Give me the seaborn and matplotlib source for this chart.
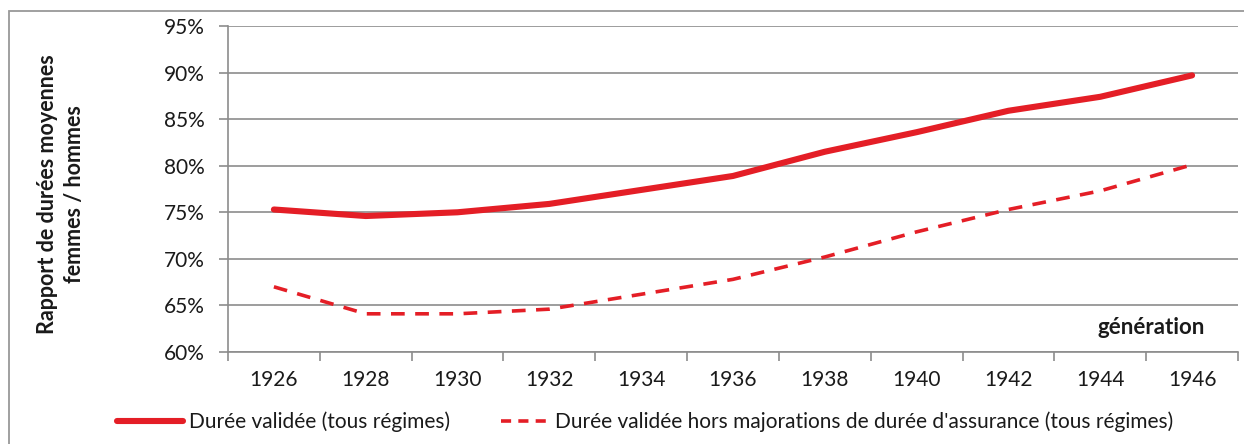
import seaborn as sns
import pandas as pd
import matplotlib.pyplot as plt
from matplotlib.lines import Line2D
from matplotlib.patches import Rectangle
from matplotlib.ticker import FuncFormatter, FixedLocator

# data
generations = ['1926', '1928', '1930', '1932', '1934', '1936', '1938', '1940', '1942', '1944', '1946']
duree_validee = [75.3, 74.6, 75.0, 75.9, 77.4, 78.9, 81.5, 83.6, 85.9, 87.4, 89.7]
duree_hors_maj = [67.0, 64.1, 64.1, 64.6, 66.2, 67.8, 70.2, 72.9, 75.3, 77.3, 80.1]
label_solid = 'Durée validée (tous régimes)'
label_dashed = "Durée validée hors majorations de durée d'assurance (tous régimes)"

sns.set_theme(style='white')
plt.rcParams['font.family'] = ['Lato', 'DejaVu Sans']

red = '#E41E26'
grey = '#8C8C8C'
txt = '#1a1a1a'

df = pd.DataFrame({'generation': generations,
                   'solid': duree_validee,
                   'dashed': duree_hors_maj})
df['pos'] = range(len(df))

fig = plt.figure(figsize=(12.44, 4.44), dpi=100)
ax = fig.add_axes([228 / 1244, 92 / 444, 1010 / 1244, 326 / 444])

sns.lineplot(data=df, x='pos', y='solid', ax=ax, color=red, lw=4.4,
             solid_capstyle='round', solid_joinstyle='round')
sns.lineplot(data=df, x='pos', y='dashed', ax=ax, color=red, lw=2.6)
ax.lines[-1].set_dashes([3.8, 2.9])

ax.set_xlim(-0.5, len(generations) - 0.5)
ax.set_ylim(60, 95)
ax.set_yticks(range(60, 96, 5))
ax.yaxis.set_major_formatter(FuncFormatter(lambda v, p: f'{v:.0f}%'))
ax.grid(axis='y', color=grey, lw=1.2)
ax.set_axisbelow(True)

ax.set_xticks(df['pos'])
ax.set_xticklabels(generations)
ax.xaxis.set_minor_locator(FixedLocator([i - 0.5 for i in range(len(generations) + 1)]))
ax.tick_params(axis='x', which='major', length=0, pad=13, labelsize=15, labelcolor=txt)
ax.tick_params(axis='x', which='minor', bottom=True, length=6.5, width=1.2, color=grey)
ax.tick_params(axis='y', left=True, length=6.5, width=1.2, color=grey, pad=10,
               labelsize=15, labelcolor=txt)

for s in ['top', 'right']:
    ax.spines[s].set_visible(False)
for s in ['left', 'bottom']:
    ax.spines[s].set_color(grey)
    ax.spines[s].set_linewidth(1.2)

ax.set_xlabel('')
ax.set_ylabel('')
ax.text(0.914, 0.075, 'génération', transform=ax.transAxes, ha='center', va='center',
        fontsize=16, fontweight='bold', color=txt)

fig.text(61 / 1244, 1 - 194 / 444, 'Rapport de durées moyennes\nfemmes / hommes',
         rotation=90, ha='center', va='center', multialignment='center',
         fontsize=15.5, fontweight='bold', color=txt, linespacing=1.35)

h_solid = Line2D([], [], color=red, lw=4.4, solid_capstyle='round')
h_dashed = Line2D([], [], color=red, lw=2.6, dashes=[2.8, 2.0])
fig.legend([h_solid], [label_solid], loc='center left',
           bbox_to_anchor=(98 / 1244, 1 - 422 / 444), frameon=False,
           fontsize=15, handlelength=3.2, handletextpad=0.25, labelcolor=txt)
fig.legend([h_dashed], [label_dashed], loc='center left',
           bbox_to_anchor=(482 / 1244, 1 - 422 / 444), frameon=False,
           fontsize=15, handlelength=2.3, handletextpad=0.3, labelcolor=txt)

fig.patches.append(Rectangle((9 / 1244, -0.2), 1.2, 1.2 - 11 / 444, transform=fig.transFigure,
                             fill=False, edgecolor='#999999', lw=1.3, clip_on=False))

fig.savefig('out.png', dpi=100)
